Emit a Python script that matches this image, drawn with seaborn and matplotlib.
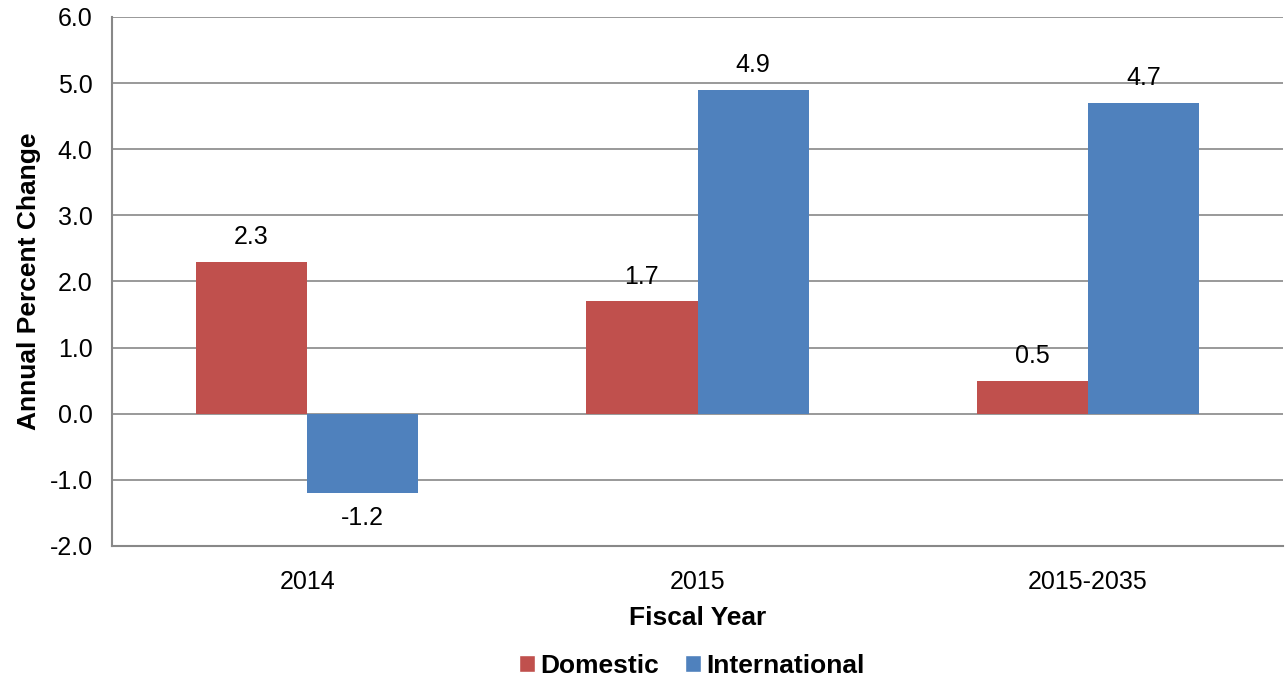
import matplotlib
matplotlib.use("Agg")
import matplotlib.pyplot as plt
import seaborn as sns
import pandas as pd
from matplotlib.patches import Patch

categories = ["2014", "2015", "2015-2035"]
domestic = [2.3, 1.7, 0.5]
international = [-1.2, 4.9, 4.7]
series_names = ["Domestic", "International"]
colors = ["#C0504D", "#4F81BD"]
yticks = [-2.0, -1.0, 0.0, 1.0, 2.0, 3.0, 4.0, 5.0, 6.0]

df = pd.DataFrame({
    "Fiscal Year": categories * 2,
    "value": domestic + international,
    "series": [series_names[0]] * 3 + [series_names[1]] * 3,
})

sns.set_style("white")
plt.rcParams["font.family"] = ["Liberation Sans", "DejaVu Sans"]
plt.rcParams["text.color"] = "black"
plt.rcParams["axes.labelcolor"] = "black"
plt.rcParams["xtick.color"] = "black"
plt.rcParams["ytick.color"] = "black"

fig = plt.figure(figsize=(12.86, 6.79), dpi=100)
ax = fig.add_axes([0.0871, 0.1959, 0.9106, 0.7791])

sns.barplot(data=df, x="Fiscal Year", y="value", hue="series", order=categories,
            hue_order=series_names, palette=colors, width=0.57, saturation=1,
            linewidth=0, ax=ax, legend=False, zorder=3)

ax.set_ylim(-2.0, 6.0)
ax.set_yticks(yticks)
ax.set_yticklabels([f"{v:.1f}" for v in yticks], fontsize=18)
ax.yaxis.grid(True, color="#888888", linewidth=1.2, zorder=0)
ax.set_axisbelow(True)
for s in ["top", "right"]:
    ax.spines[s].set_visible(False)
ax.spines["left"].set_color("#888888")
ax.spines["left"].set_linewidth(1.5)
ax.spines["bottom"].set_color("#888888")
ax.spines["bottom"].set_linewidth(1.5)
ax.tick_params(axis="y", length=8, color="#888888", width=1.2, pad=6, labelcolor="black")
ax.tick_params(axis="x", length=0, labelsize=18, pad=17, labelcolor="black")

ax.set_xlabel("Fiscal Year", fontsize=19, fontweight="bold", labelpad=9, color="black")
ax.set_ylabel("Annual Percent Change", fontsize=19, fontweight="bold", labelpad=6, color="black")

for cont in ax.containers:
    labels = [f"{b.get_height():.1f}" for b in cont]
    ax.bar_label(cont, labels=labels, fontsize=18, padding=9, color="black")

handles = [Patch(facecolor=c, label=n) for c, n in zip(colors, series_names)]
fig.legend(handles=handles, loc="lower center", bbox_to_anchor=(0.538, -0.033), ncol=2,
           frameon=False, prop={"size": 19, "weight": "bold"},
           handlelength=0.6, handleheight=0.6, handletextpad=0.2, columnspacing=1.0)

fig.savefig("out.png", dpi=100)
